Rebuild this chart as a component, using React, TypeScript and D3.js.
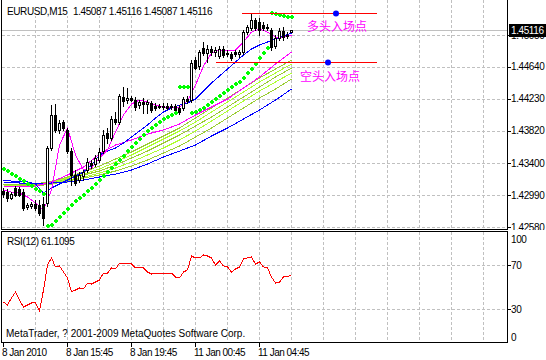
import React from "react";
import * as d3 from "d3";

const symbol = "EURUSD,M15";
const timeLabels = ["8 Jan 2010", "8 Jan 15:45", "8 Jan 19:45", "11 Jan 00:45", "11 Jan 04:45"];
const timeLabelBars = [0, 16, 32, 48, 64];
const priceTicks = [1.4505, 1.4464, 1.4423, 1.4382, 1.434, 1.4299, 1.4258];
const rsiTicks = [100, 70, 30, 0];
const rsiGridLevels = [70, 30];
const rsiPeriod = 12;
const copyright = "MetaTrader, ? 2001-2009 MetaQuotes Software Corp.";

const open = [
  1.43043, 1.4303, 1.42953, 1.43081, 1.43069, 1.4303, 1.42837, 1.4285, 1.42876, 1.42863,
  1.42876, 1.42888, 1.43596, 1.44021, 1.43828, 1.4393, 1.43828, 1.43557, 1.43249, 1.43184,
  1.43236, 1.43313, 1.43403, 1.4339, 1.43442, 1.43557, 1.43789, 1.43725, 1.43969, 1.4393,
  1.44252, 1.44213, 1.44239, 1.44213, 1.44149, 1.44188, 1.44162, 1.44175, 1.44136, 1.44123,
  1.44136, 1.44136, 1.44123, 1.44136, 1.44111, 1.44111, 1.44226, 1.44213, 1.44728, 1.44651,
  1.44882, 1.44818, 1.4487, 1.44831, 1.4478, 1.4487, 1.44818, 1.44805, 1.44831, 1.44805,
  1.44831, 1.45088, 1.4514, 1.45243, 1.45217, 1.45178, 1.45153, 1.45114, 1.44908, 1.45011,
  1.45101, 1.45037, 1.45087,
];
const high = [
  1.43081, 1.43069, 1.4303, 1.43107, 1.43094, 1.43069, 1.42888, 1.42901, 1.42927, 1.42927,
  1.42966, 1.43622, 1.44149, 1.44162, 1.43956, 1.43956, 1.43853, 1.43596, 1.43313, 1.43287,
  1.43313, 1.43467, 1.43442, 1.43506, 1.43596, 1.43828, 1.43853, 1.44008, 1.44059, 1.44291,
  1.44381, 1.44368, 1.44265, 1.44252, 1.44213, 1.44239, 1.44213, 1.44201, 1.44175, 1.44162,
  1.44175, 1.44175, 1.44162, 1.44162, 1.44149, 1.44252, 1.44265, 1.44728, 1.44767, 1.44857,
  1.4496, 1.44921, 1.44908, 1.44895, 1.44908, 1.44908, 1.44857, 1.44831, 1.44857, 1.44857,
  1.45114, 1.45178, 1.4532, 1.45268, 1.45268, 1.45217, 1.45191, 1.4514, 1.4505, 1.4514,
  1.45153, 1.45088, 1.45116,
];
const low = [
  1.42966, 1.42914, 1.4294, 1.42978, 1.42978, 1.42798, 1.42811, 1.42824, 1.42798, 1.42734,
  1.42605, 1.4285, 1.4357, 1.43802, 1.43789, 1.43828, 1.43532, 1.4312, 1.4312, 1.43159,
  1.43184, 1.43287, 1.43339, 1.43364, 1.43416, 1.43532, 1.4366, 1.43699, 1.43905, 1.43905,
  1.44136, 1.44175, 1.44201, 1.44085, 1.44111, 1.44046, 1.44046, 1.44059, 1.44085, 1.44111,
  1.44098, 1.44098, 1.44098, 1.44072, 1.44033, 1.44085, 1.44175, 1.44188, 1.44612, 1.44612,
  1.44792, 1.44702, 1.44792, 1.4478, 1.44754, 1.44767, 1.4478, 1.44728, 1.4478, 1.44767,
  1.44805, 1.45063, 1.45114, 1.45114, 1.4505, 1.45114, 1.45114, 1.44857, 1.44882, 1.44985,
  1.44985, 1.45011, 1.45087,
];
const close = [
  1.43004, 1.42953, 1.43004, 1.42991, 1.42991, 1.42824, 1.42863, 1.42876, 1.42824, 1.4276,
  1.42695, 1.43596, 1.44021, 1.43828, 1.43918, 1.43853, 1.43557, 1.43249, 1.43146, 1.43249,
  1.43287, 1.43416, 1.43377, 1.43467, 1.43545, 1.43763, 1.43725, 1.43969, 1.4393, 1.44265,
  1.44201, 1.44239, 1.44213, 1.44123, 1.44188, 1.44162, 1.44188, 1.44085, 1.44111, 1.44136,
  1.44123, 1.44111, 1.44136, 1.44085, 1.44059, 1.44226, 1.44201, 1.4469, 1.44625, 1.44831,
  1.44818, 1.4487, 1.44831, 1.44857, 1.4487, 1.44792, 1.44805, 1.44754, 1.44805, 1.44831,
  1.45088, 1.45153, 1.45243, 1.4514, 1.45114, 1.4514, 1.4514, 1.44895, 1.45011, 1.45101,
  1.45024, 1.4505, 1.45116,
];

// Parabolic SAR, one value per bar
const sar = [
  1.43326, 1.433, 1.43261, 1.43236, 1.43197, 1.43171, 1.43133, 1.43107, 1.43069, 1.43043,
  1.43004, 1.42593, 1.42605, 1.42657, 1.42708, 1.4276, 1.42811, 1.42863, 1.42914, 1.42953,
  1.42991, 1.43043, 1.43081, 1.43133, 1.43184, 1.43236, 1.43287, 1.43339, 1.4339, 1.43442,
  1.43493, 1.43557, 1.43609, 1.4366, 1.43712, 1.43763, 1.43815, 1.43853, 1.43892, 1.4393,
  1.43969, 1.43995, 1.44021, 1.44046, 1.44381, 1.44381, 1.44381, 1.44046, 1.44059, 1.44085,
  1.44111, 1.44149, 1.44188, 1.44226, 1.44265, 1.44304, 1.44342, 1.44381, 1.44419, 1.44445,
  1.44497, 1.44561, 1.44612, 1.44677, 1.44754, 1.44818, 1.44882, 1.45333, 1.4532, 1.45307,
  1.45294, 1.45281, 1.45281,
];

// moving averages sampled every 2 bars
const fastStep = 2;
const maFastMagenta = [
  1.43056, 1.4303, 1.43017, 1.42966, 1.42888, 1.42798, 1.43056, 1.43635, 1.43853, 1.43506,
  1.43313, 1.43339, 1.43467, 1.4357, 1.43802, 1.44021, 1.44162, 1.44213, 1.44188, 1.44149,
  1.44123, 1.44123, 1.44123, 1.44201, 1.44406, 1.44651, 1.44818, 1.44857, 1.44857, 1.44857,
  1.4496, 1.45088, 1.45127, 1.45088, 1.45024, 1.45024, 1.4505,
];
const maFastBlue = [
  1.43184, 1.43171, 1.43171, 1.43159, 1.43133, 1.43017, 1.43081, 1.43133, 1.43184, 1.43236,
  1.43287, 1.43377, 1.43506, 1.43557, 1.43596, 1.4366, 1.43737, 1.43815, 1.43892, 1.43982,
  1.44059, 1.44111, 1.44149, 1.44175, 1.44226, 1.44329, 1.44432, 1.44522, 1.44612, 1.44702,
  1.44792, 1.4487, 1.44921, 1.4496, 1.44998, 1.45037, 1.45075,
];
// slower averages sampled every 4 bars
const slowStep = 4;
const maSlowMagenta = [
  1.43107, 1.43107, 1.43107, 1.43159, 1.43249, 1.43352, 1.43519, 1.43635, 1.43699, 1.43776,
  1.43828, 1.43905, 1.44021, 1.44123, 1.44226, 1.44368, 1.44509, 1.44677, 1.44831,
];
const maSlowBlue = [
  1.43159, 1.43146, 1.43133, 1.43146, 1.43159, 1.43184, 1.43223, 1.43261, 1.43313, 1.4339,
  1.4348, 1.43557, 1.43635, 1.4375, 1.43853, 1.43969, 1.44085, 1.44213, 1.44355,
];
const ribbon1 = [
  1.43133, 1.43133, 1.43133, 1.43171, 1.43223, 1.43287, 1.43364, 1.43454, 1.43545, 1.43647,
  1.4375, 1.43853, 1.43982, 1.44111, 1.44239, 1.44368, 1.44497, 1.44612, 1.44728,
];
const ribbon2 = [
  1.43133, 1.43133, 1.43133, 1.43159, 1.4321, 1.43261, 1.43326, 1.43416, 1.43506, 1.43609,
  1.43712, 1.43815, 1.4393, 1.44059, 1.44188, 1.44316, 1.44445, 1.44561, 1.44677,
];
const ribbon3 = [
  1.43133, 1.4312, 1.4312, 1.43159, 1.43197, 1.43249, 1.433, 1.43377, 1.43467, 1.43557,
  1.4366, 1.43763, 1.43879, 1.43995, 1.44123, 1.44252, 1.44381, 1.44509, 1.44625,
];
const ribbon4 = [
  1.4312, 1.4312, 1.4312, 1.43146, 1.43184, 1.43223, 1.43274, 1.43339, 1.43416, 1.43506,
  1.43596, 1.43699, 1.43815, 1.43943, 1.44072, 1.44201, 1.44329, 1.44445, 1.44561,
];
const ribbon5 = [
  1.4312, 1.4312, 1.43107, 1.43133, 1.43171, 1.4321, 1.43249, 1.433, 1.43364, 1.43442,
  1.43532, 1.43622, 1.43737, 1.43853, 1.43982, 1.44111, 1.44239, 1.44355, 1.44484,
];

const rsi = [
  36.4, 33.6, 40.0, 45.5, 38.2, 31.8, 33.6, 35.5, 35.5, 28.2,
  47.3, 70.0, 76.4, 68.2, 69.1, 63.6, 58.2, 45.5, 47.3, 49.1,
  48.2, 53.6, 52.7, 54.5, 56.4, 62.7, 62.7, 67.3, 66.4, 71.8,
  71.8, 71.8, 70.9, 67.3, 67.3, 67.3, 63.6, 61.8, 62.7, 62.7,
  62.7, 62.7, 62.7, 59.1, 58.2, 63.6, 65.5, 78.2, 76.4, 76.4,
  79.1, 78.2, 76.4, 70.0, 73.6, 69.1, 68.2, 63.6, 66.4, 68.2,
  75.5, 76.4, 77.3, 70.9, 72.7, 68.2, 67.3, 59.1, 53.6, 54.5,
  59.1, 59.1, 61.1095,
];

// entry levels (horizontal lines) drawn on the chart
const entryNames = ["多头入场点", "空头入场点"];
const entryPrices = [1.45333, 1.44702];
const entryStartBars = [59.75, 53.25];
const entryEndBars = [93.5, 93.5];
const entryDotBars = [83.25, 81.25];
const entryLabelBars = [76, 74.25];
const entryLabelPrices = [1.45243, 1.44599];

const FONT = "'Liberation Sans', Arial, sans-serif";

export default function App() {
  const W = 546;
  const H = 360;
  const L = 1.5;
  const R = 507.5;
  const mainBottom = 229.5;
  const rsiTop = 231.5;
  const rsiBottom = 342.5;

  const x = d3.scaleLinear().domain([0, 126]).range([3, 507]);
  const y = d3.scaleLinear().domain([1.4258, 1.4505]).range([227, 35]);
  const ry = d3.scaleLinear().domain([0, 100]).range([342, 232]);
  const snap = (v: number) => Math.round(v) + 0.5;
  const f5 = d3.format(".5f");

  const pathOf = (vals: number[], step: number) =>
    d3
      .line<number>()
      .x((_, k) => snap(x(k * step)))
      .y((v) => y(v))(vals) ?? "";

  const rsiPath =
    d3
      .line<number>()
      .x((_, i) => snap(x(i)))
      .y((v) => ry(v))(rsi) ?? "";

  const gridBars = d3.range(8, 121, 8);
  const last = close.length - 1;
  const lastY = snap(y(close[last]));

  const ribbons = [ribbon5, ribbon4, ribbon3, ribbon2, ribbon1];
  const ribbonColors = ["#9acd32", "#adff2f", "#9acd32", "#adff2f", "#9acd32"];

  const dash = "3,2";
  const grey = "#c0c0c0";

  return (
    <svg
      width={W}
      height={H}
      viewBox={`0 0 ${W} ${H}`}
      style={{ position: "absolute", left: 0, top: 0, background: "#fff" }}
      shapeRendering="crispEdges"
    >
      <defs>
        <clipPath id="mainClip">
          <rect x={2} y={0} width={505} height={229} />
        </clipPath>
        <clipPath id="rsiClip">
          <rect x={2} y={232} width={505} height={110} />
        </clipPath>
      </defs>
      <rect x={0} y={0} width={W} height={H} fill="#fff" />

      {/* ---------- main panel ---------- */}
      <g>
        {gridBars.map((b) => (
          <line key={"vg" + b} x1={snap(x(b))} x2={snap(x(b))} y1={0} y2={229} stroke={grey} strokeDasharray={dash} />
        ))}
        {priceTicks.map((p) => (
          <line key={"hg" + p} x1={2} x2={507} y1={snap(y(p))} y2={snap(y(p))} stroke={grey} strokeDasharray={dash} />
        ))}
        <line x1={2} x2={507} y1={lastY} y2={lastY} stroke={grey} />

        <g clipPath="url(#mainClip)" fill="none" strokeWidth={1}>
          {ribbons.map((rb, k) => (
            <path key={"rb" + k} d={pathOf(rb, slowStep)} stroke={ribbonColors[k]} />
          ))}
          <path d={pathOf(maSlowBlue, slowStep)} stroke="#0000ff" />
          <path d={pathOf(maSlowMagenta, slowStep)} stroke="#ff00ff" />
          <path d={pathOf(maFastBlue, fastStep)} stroke="#0000ff" />
          <path d={pathOf(maFastMagenta, fastStep)} stroke="#ff00ff" />
        </g>

        <g clipPath="url(#mainClip)">
          {close.map((c, i) => {
            const o = open[i];
            const xc = Math.round(x(i));
            const top = Math.round(y(Math.max(o, c)));
            const bot = Math.round(y(Math.min(o, c)));
            const bull = c >= o;
            return (
              <g key={"c" + i}>
                <line x1={xc + 0.5} x2={xc + 0.5} y1={Math.round(y(high[i]))} y2={Math.round(y(low[i])) + 1} stroke="#000" />
                {bot - top >= 1 ? (
                  <rect x={xc - 0.5} y={top + 0.5} width={2} height={bot - top} fill={bull ? "#fff" : "#000"} stroke="#000" />
                ) : (
                  <line x1={xc - 1} x2={xc + 2} y1={top + 0.5} y2={top + 0.5} stroke="#000" />
                )}
              </g>
            );
          })}
          {sar.map((s, i) => {
            const xc = Math.round(x(i));
            const yc = Math.round(y(s));
            return (
              <g key={"s" + i} fill="#00ff00">
                <rect x={xc - 1} y={yc - 1} width={4} height={2} />
                <rect x={xc} y={yc - 2} width={2} height={4} />
              </g>
            );
          })}
        </g>

        {entryPrices.map((p, k) => (
          <g key={"e" + k}>
            <line x1={x(entryStartBars[k])} x2={x(entryEndBars[k])} y1={snap(y(p))} y2={snap(y(p))} stroke="#ff0000" />
            <circle cx={x(entryDotBars[k])} cy={y(p) + 0.5} r={3} fill="#0000ff" shapeRendering="auto" />
            <text
              x={x(entryLabelBars[k])}
              y={y(entryLabelPrices[k]) + 11}
              fill="#ff00ff"
              fontSize={12}
              fontFamily="'Noto Sans CJK SC', sans-serif"
            >
              {entryNames[k]}
            </text>
          </g>
        ))}

        {/* title */}
        <rect x={2} y={0} width={196} height={16} fill="#fff" />
        <text x={7} y={15} fontSize={10} fontFamily={FONT} letterSpacing={-0.4} fill="#000">
          {symbol}
        </text>
        <text x={73} y={15} fontSize={10} fontFamily={FONT} letterSpacing={-0.4} fill="#000">
          {[open[last], high[last], low[last], close[last]].map(f5).join(" ")}
        </text>

        {/* right axis */}
        <line x1={R} x2={R} y1={0} y2={mainBottom} stroke="#000" />
        <line x1={L} x2={L} y1={0} y2={mainBottom} stroke="#000" />
        {priceTicks.map((p) => (
          <g key={"pt" + p}>
            <line x1={508} x2={511} y1={snap(y(p))} y2={snap(y(p))} stroke="#000" />
            <text x={511} y={y(p)} dy="0.36em" fontSize={10} fontFamily={FONT} letterSpacing={-0.4} fill="#000">
              {f5(p)}
            </text>
          </g>
        ))}
        <rect x={509} y={lastY - 6.5} width={37} height={13} fill="#000" />
        <text x={511} y={lastY} dy="0.36em" fontSize={10} fontFamily={FONT} letterSpacing={-0.4} fill="#fff">
          {f5(close[last])}
        </text>
        <line x1={1} x2={508} y1={mainBottom} y2={mainBottom} stroke="#000" />
      </g>

      {/* ---------- RSI panel ---------- */}
      <rect x={0} y={230} width={W} height={H - 230} fill="#fff" />
      <g>
        {gridBars.map((b) => (
          <line key={"rvg" + b} x1={snap(x(b))} x2={snap(x(b))} y1={232} y2={342} stroke={grey} strokeDasharray={dash} />
        ))}
        {rsiGridLevels.map((v) => (
          <line key={"rhg" + v} x1={2} x2={507} y1={snap(ry(v))} y2={snap(ry(v))} stroke={grey} strokeDasharray={dash} />
        ))}
        <path d={rsiPath} fill="none" stroke="#ff0000" clipPath="url(#rsiClip)" />
        <text x={7} y={245} fontSize={10} fontFamily={FONT} letterSpacing={-0.4} fill="#000">
          {`RSI(${rsiPeriod}) ${d3.format(".4f")(rsi[rsi.length - 1])}`}
        </text>
        <text x={6} y={337} fontSize={10} fontFamily={FONT} fill="#000">
          {copyright}
        </text>
        <line x1={1} x2={508} y1={rsiTop} y2={rsiTop} stroke="#000" />
        <line x1={1} x2={508} y1={rsiBottom} y2={rsiBottom} stroke="#000" />
        <line x1={L} x2={L} y1={rsiTop} y2={rsiBottom} stroke="#000" />
        <line x1={R} x2={R} y1={rsiTop} y2={rsiBottom} stroke="#000" />
        {rsiTicks.map((v) => {
          const yy = Math.max(239, Math.min(337, ry(v)));
          return (
            <g key={"rt" + v}>
              {v !== 100 && v !== 0 ? (
                <line x1={508} x2={511} y1={snap(ry(v))} y2={snap(ry(v))} stroke="#000" />
              ) : null}
              <text x={511} y={yy} dy="0.36em" fontSize={10} fontFamily={FONT} letterSpacing={-0.4} fill="#000">
                {v}
              </text>
            </g>
          );
        })}
        {timeLabelBars.map((b, k) => (
          <g key={"tl" + b}>
            <line x1={snap(x(b))} x2={snap(x(b))} y1={343} y2={347} stroke="#000" />
            <text x={x(b) - 1} y={356} fontSize={10} fontFamily={FONT} letterSpacing={-0.5} fill="#000">
              {timeLabels[k]}
            </text>
          </g>
        ))}
      </g>
    </svg>
  );
}
